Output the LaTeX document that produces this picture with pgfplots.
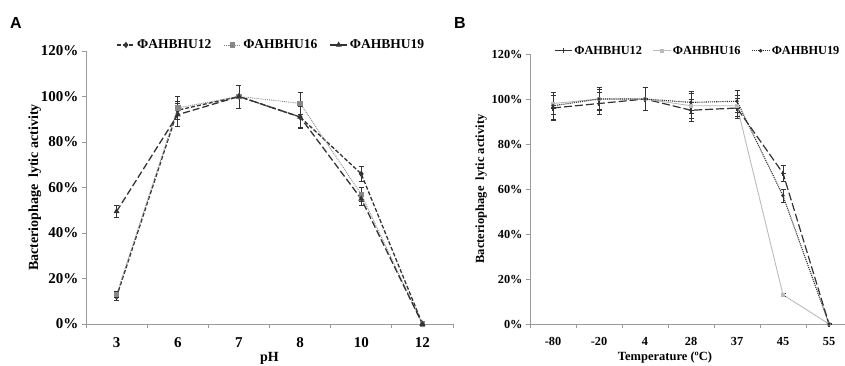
\documentclass[border=0pt]{standalone}
\usepackage{fontspec}
\setmainfont{Liberation Serif}
\newfontfamily\panelfont{Liberation Sans}
\usepackage{pgfplots}
\pgfplotsset{compat=1.18}
\definecolor{dk}{HTML}{333333}
\definecolor{md}{HTML}{888888}
\definecolor{lt}{HTML}{BBBBBB}
\definecolor{ax}{HTML}{9A9A9A}
\pgfplotsset{
  panel/.style={
    scale only axis,
    axis x line=bottom, axis y line=left,
    axis line style={ax, line width=0.9pt, -},
    ymin=0, ymax=120, ytick={0,20,...,120},
    yticklabel={\pgfmathprintnumber{\tick}\%},
    /pgf/number format/assume math mode=true,
    tick align=outside,
    major tick length=4pt,
    minor tick length=4pt,
    every tick/.style={ax, line width=0.8pt},
    major x tick style={draw=none},
    ylabel={Bacteriophage\ \ lytic activity},
    xtick=data,
    legend columns=3,
    legend style={draw=none, fill=none},
    error bars/y dir=both, error bars/y explicit,
    error bars/error bar style={dk, line width=0.7pt, solid},
    error bars/error mark options={rotate=90, mark size=2.5pt, dk, line width=0.7pt, solid},
  }
}
\begin{document}
\begin{tikzpicture}
\useasboundingbox (0,0) rectangle (845pt,365pt);
\node[font=\panelfont\bfseries\fontsize{16}{18}\selectfont] at (16pt,342pt) {A};
\node[font=\panelfont\bfseries\fontsize{16}{18}\selectfont] at (460pt,342pt) {B};
% Panel A
\begin{axis}[panel,
  at={(86pt,41pt)}, anchor=south west, width=367pt, height=273pt,
  xmin=-0.5, xmax=5.5,
  xticklabels={3,6,7,8,10,12},
  minor xtick={-0.5,0.5,...,5.5},
  tick label style={font=\bfseries\fontsize{15}{17}\selectfont, black},
  xticklabel style={yshift=-6pt},
  label style={font=\bfseries\fontsize{14}{16}\selectfont},
  ylabel style={yshift=-7pt},
  xlabel={pH}, xlabel style={yshift=2pt},
  legend style={at={(0.075,1.022)}, anchor=west, font=\bfseries\fontsize{13.5}{16}\selectfont,
      /tikz/every even column/.append style={column sep=10pt}},
]
\addplot[dk, line width=1.3pt, dash pattern=on 4pt off 2pt, mark=diamond*, mark size=2.2pt, mark options={solid}]
 table[x=x, y=y, y error=e] {
 x y e
 0 12 1.5
 1 94 4
 2 100 5
 3 91 4.5
 4 66 3.5
 5 0 0.5
 };
\addlegendentry{ΦAHBHU12}
\addplot[md, line width=0.9pt, densely dotted, mark=square*, mark size=2.2pt, mark options={solid}]
 table[x=x, y=y, y error=e] {
 x y e
 0 13 1.5
 1 95 5
 2 100 5
 3 97 5
 4 57 3
 5 0 0.5
 };
\addlegendentry{ΦAHBHU16}
\addplot[dk, line width=1.3pt, dash pattern=on 7pt off 3pt, mark=triangle*, mark size=2.2pt, mark options={solid}]
 table[x=x, y=y, y error=e] {
 x y e
 0 49.5 2.5
 1 92 5
 2 100 5
 3 91 5
 4 55 3
 5 0 0.5
 };
\addlegendentry{ΦAHBHU19}
\end{axis}
% Panel B
\begin{axis}[panel,
  at={(530pt,41pt)}, anchor=south west, width=322pt, height=270pt,
  xmin=-0.5, xmax=6.5,
  xticklabels={-80,-20,4,28,37,45,55},
  minor xtick={-0.5,0.5,...,6.5},
  tick label style={font=\bfseries\fontsize{12.3}{14}\selectfont, black},
  xticklabel style={yshift=-6pt},
  label style={font=\bfseries\fontsize{12.5}{15}\selectfont},
  ylabel style={yshift=-2pt},
  xlabel={Temperature (ºC)}, xlabel style={xshift=-26pt, yshift=1pt},
  legend style={at={(0.065,1.012)}, anchor=west, font=\bfseries\fontsize{12.3}{15}\selectfont,
      /tikz/every even column/.append style={column sep=9pt}},
]
\addplot[dk, line width=1.2pt, dash pattern=on 8pt off 3pt, mark=+, mark size=2.5pt, mark options={solid}]
 table[x=x, y=y, y error=e] {
 x y e
 0 96 5.5
 1 98 5
 2 100 5
 3 95 5
 4 96 4.5
 5 67 3.5
 6 0 0.5
 };
\addlegendentry{ΦAHBHU12}
\addplot[lt, line width=0.9pt, mark=square*, mark size=1.5pt, mark options={solid}]
 table[x=x, y=y, y error=e] {
 x y e
 0 98 5
 1 100 4.5
 2 100 5
 3 97 5.5
 4 97 4.5
 5 13 0.5
 6 0 0.5
 };
\addlegendentry{ΦAHBHU16}
\addplot[dk, line width=1.1pt, densely dotted, mark=*, mark size=1.2pt, mark options={solid}]
 table[x=x, y=y, y error=e] {
 x y e
 0 97 6
 1 100 5
 2 100 5
 3 98.5 5
 4 99 5
 5 57 3
 6 0 0.5
 };
\addlegendentry{ΦAHBHU19}
\end{axis}
\end{tikzpicture}
\end{document}
